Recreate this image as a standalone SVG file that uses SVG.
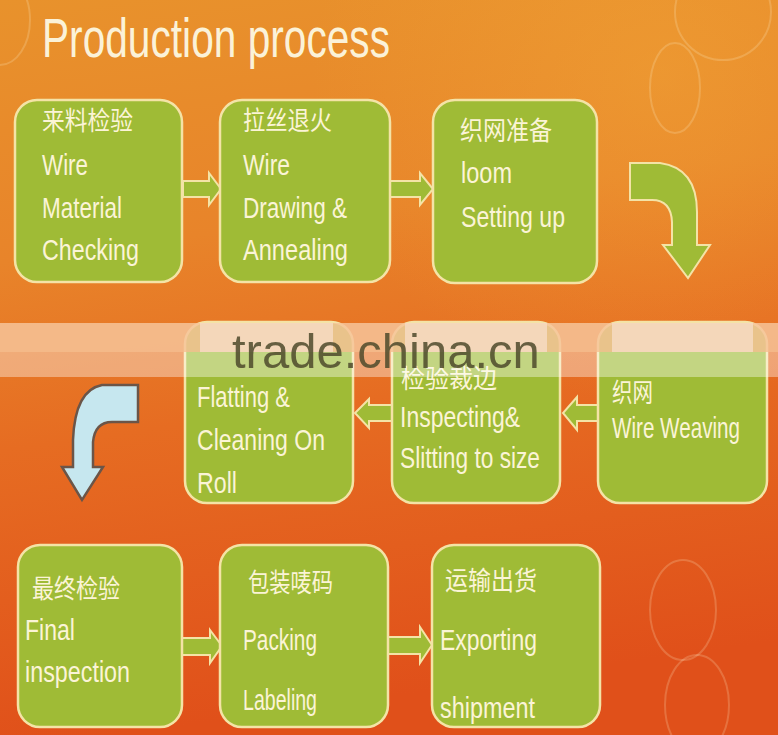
<svg xmlns="http://www.w3.org/2000/svg" width="778" height="735" viewBox="0 0 778 735">
<defs>
<linearGradient id="bg" x1="0" y1="0" x2="0.15" y2="1">
<stop offset="0" stop-color="#e8922c"/>
<stop offset="0.35" stop-color="#e8842a"/>
<stop offset="0.6" stop-color="#e66c22"/>
<stop offset="1" stop-color="#e0501a"/>
</linearGradient>
<radialGradient id="glow" cx="0.85" cy="0.1" r="0.45">
<stop offset="0" stop-color="#f2a838" stop-opacity="0.45"/>
<stop offset="1" stop-color="#f2a838" stop-opacity="0"/>
</radialGradient>
<style>
.box{fill:#9fbb36;stroke:#f4e3a6;stroke-width:2.5}
.arr{fill:#9fbb36;stroke:#f4e3a6;stroke-width:2;stroke-linejoin:miter}
.en{font-family:"Liberation Sans Narrow","Liberation Sans",Arial,sans-serif;font-size:30px;fill:#fbf4d6}
.cn{font-family:"Noto Sans CJK SC","Noto Sans",sans-serif;font-size:26px;fill:#fbf4d6}
.bub{fill:none;stroke:#fff3d0;stroke-opacity:0.2;stroke-width:2}
</style>
</defs>
<rect width="778" height="735" fill="url(#bg)"/>
<rect width="778" height="735" fill="url(#glow)"/>
<ellipse class="bub" cx="723" cy="12" rx="48" ry="48"/>
<ellipse class="bub" cx="675" cy="88" rx="25" ry="45"/>
<ellipse class="bub" cx="683" cy="610" rx="33" ry="50"/>
<ellipse class="bub" cx="697" cy="705" rx="32" ry="50"/>
<ellipse class="bub" cx="0" cy="20" rx="30" ry="45" stroke-opacity="0.12"/>
<text x="42" y="57" font-family="'Liberation Sans Narrow','Liberation Sans',Arial,sans-serif" font-size="56" fill="#fbf2d8" textLength="348" lengthAdjust="spacingAndGlyphs">Production process</text>

<g id="connectors">
<path class="arr" d="M183,181 L209,181 L209,173 L221,189 L209,205 L209,197 L183,197 Z"/>
<path class="arr" d="M390,181 L420,181 L420,173 L433,189 L420,205 L420,197 L390,197 Z"/>
<path class="arr" d="M630,163 L660,163 Q697,168 697,212 L697,245 L710,245 L688,278 L663,245 L672,245 L672,222 Q671,200 652,200 L630,200 Z"/>
<path class="arr" d="M392,405 L369,405 L369,399 L355,413 L369,428 L369,421 L392,421 Z"/>
<path class="arr" d="M598,405 L577,405 L577,397 L563,413 L577,430 L577,421 L598,421 Z"/>
<path d="M138,385 L102,385 Q75,390 73,440 L73,467 L62,467 L82,500 L103,467 L93,467 L93,442 Q95,422 112,422 L138,422 Z" fill="#c6e7ef" stroke="#6b5548" stroke-width="2.5"/>
<path class="arr" d="M182,638 L210,638 L210,630 L222,646 L210,663 L210,655 L182,655 Z"/>
<path class="arr" d="M388,637 L420,637 L420,627 L432,645 L420,663 L420,654 L388,654 Z"/>
</g>

<g id="n1">
<rect class="box" x="15" y="100" width="167" height="182" rx="22"/>
<text class="cn" x="42" y="130" textLength="91" lengthAdjust="spacingAndGlyphs">来料检验</text>
<text class="en" x="42" y="175" textLength="46" lengthAdjust="spacingAndGlyphs">Wire</text>
<text class="en" x="42" y="218" textLength="80" lengthAdjust="spacingAndGlyphs">Material</text>
<text class="en" x="42" y="260" textLength="97" lengthAdjust="spacingAndGlyphs">Checking</text>
</g>
<g id="n2">
<rect class="box" x="220" y="100" width="170" height="182" rx="22"/>
<text class="cn" x="243" y="130" textLength="89" lengthAdjust="spacingAndGlyphs">拉丝退火</text>
<text class="en" x="243" y="175" textLength="47" lengthAdjust="spacingAndGlyphs">Wire</text>
<text class="en" x="243" y="218" textLength="104" lengthAdjust="spacingAndGlyphs">Drawing &amp;</text>
<text class="en" x="243" y="260" textLength="105" lengthAdjust="spacingAndGlyphs">Annealing</text>
</g>
<g id="n3">
<rect class="box" x="433" y="100" width="164" height="183" rx="22"/>
<text class="cn" x="460" y="140" textLength="92" lengthAdjust="spacingAndGlyphs">织网准备</text>
<text class="en" x="461" y="183" textLength="51" lengthAdjust="spacingAndGlyphs">loom</text>
<text class="en" x="461" y="227" textLength="104" lengthAdjust="spacingAndGlyphs">Setting up</text>
</g>
<g id="n4">
<rect class="box" x="185" y="322" width="168" height="181" rx="22"/>
<text class="en" x="197" y="407" textLength="93" lengthAdjust="spacingAndGlyphs">Flatting &amp;</text>
<text class="en" x="197" y="450" textLength="128" lengthAdjust="spacingAndGlyphs">Cleaning On</text>
<text class="en" x="197" y="493" textLength="40" lengthAdjust="spacingAndGlyphs">Roll</text>
</g>
<g id="n5">
<rect class="box" x="392" y="322" width="168" height="181" rx="22"/>
<text class="cn" x="401" y="388" textLength="96" lengthAdjust="spacingAndGlyphs">检验裁边</text>
<text class="en" x="400" y="427" textLength="120" lengthAdjust="spacingAndGlyphs">Inspecting&amp;</text>
<text class="en" x="400" y="468" textLength="140" lengthAdjust="spacingAndGlyphs">Slitting to size</text>
</g>
<g id="n6">
<rect class="box" x="598" y="322" width="169" height="181" rx="22"/>
<text class="cn" x="612" y="402" textLength="41" lengthAdjust="spacingAndGlyphs">织网</text>
<text class="en" x="612" y="438" textLength="128" lengthAdjust="spacingAndGlyphs">Wire Weaving</text>
</g>
<g id="n7">
<rect class="box" x="18" y="545" width="164" height="182" rx="22"/>
<text class="cn" x="32" y="598" textLength="88" lengthAdjust="spacingAndGlyphs">最终检验</text>
<text class="en" x="25" y="640" textLength="50" lengthAdjust="spacingAndGlyphs">Final</text>
<text class="en" x="25" y="682" textLength="105" lengthAdjust="spacingAndGlyphs">inspection</text>
</g>
<g id="n8">
<rect class="box" x="220" y="545" width="168" height="182" rx="22"/>
<text class="cn" x="248" y="592" textLength="85" lengthAdjust="spacingAndGlyphs">包装唛码</text>
<text class="en" x="243" y="650" textLength="74" lengthAdjust="spacingAndGlyphs">Packing</text>
<text class="en" x="243" y="710" textLength="74" lengthAdjust="spacingAndGlyphs">Labeling</text>
</g>
<g id="n9">
<rect class="box" x="432" y="545" width="168" height="182" rx="22"/>
<text class="cn" x="445" y="590" textLength="92" lengthAdjust="spacingAndGlyphs">运输出货</text>
<text class="en" x="440" y="650" textLength="97" lengthAdjust="spacingAndGlyphs">Exporting</text>
<text class="en" x="440" y="718" textLength="95" lengthAdjust="spacingAndGlyphs">shipment</text>
</g>

<g id="watermark">
<rect x="0" y="323" width="778" height="29" fill="#f6c49a" fill-opacity="0.85"/>
<rect x="200" y="323" width="133" height="29" fill="#f6dcc6" fill-opacity="0.8"/>
<rect x="405" y="323" width="142" height="29" fill="#f6dcc6" fill-opacity="0.8"/>
<rect x="612" y="323" width="141" height="29" fill="#f6dcc6" fill-opacity="0.8"/>
<rect x="0" y="352" width="778" height="25" fill="#ffffff" fill-opacity="0.38"/>
<text x="232" y="368" font-family="'Liberation Sans',Arial,sans-serif" font-size="49" fill="#4e4a2c" fill-opacity="0.85">trade.china.cn</text>
</g>
</svg>
